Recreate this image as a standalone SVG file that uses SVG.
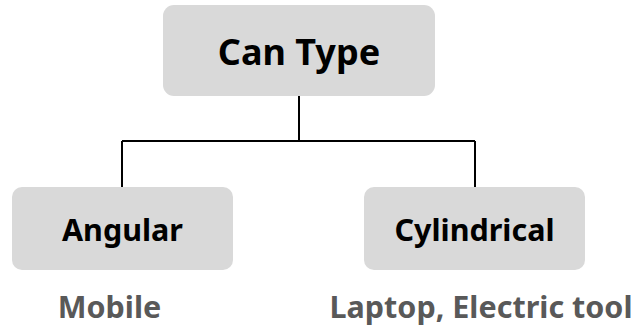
<svg xmlns="http://www.w3.org/2000/svg" width="636" height="329" viewBox="0 0 636 329">
<style>
.box{fill:#d9d9d9;}
.lbl{font-family:"Noto Sans","Liberation Sans",sans-serif;font-weight:bold;fill:#000;text-anchor:middle;}
.sub{font-family:"Noto Sans","Liberation Sans",sans-serif;font-weight:bold;fill:#595959;text-anchor:middle;font-size:30.5px;}
.con{fill:none;stroke:#000;stroke-width:2;}
</style>
<rect width="636" height="329" fill="#fff"/>
<g id="connectors">
<path class="con" d="M299 96V141M122 141H475M122 141V187M475 141V187"/>
</g>
<g id="can-type">
<rect class="box" x="163" y="5" width="272" height="91" rx="11"/>
<text class="lbl" x="299" y="65" font-size="36">Can Type</text>
</g>
<g id="angular">
<rect class="box" x="12" y="187" width="221" height="83" rx="10"/>
<text class="lbl" x="122.5" y="241" font-size="30.5">Angular</text>
</g>
<g id="cylindrical">
<rect class="box" x="364" y="187" width="221" height="83" rx="10"/>
<text class="lbl" x="474.5" y="241" font-size="30.5">Cylindrical</text>
</g>
<text class="sub" x="109.5" y="318">Mobile</text>
<text class="sub" x="481" y="318">Laptop, Electric tool</text>
</svg>
